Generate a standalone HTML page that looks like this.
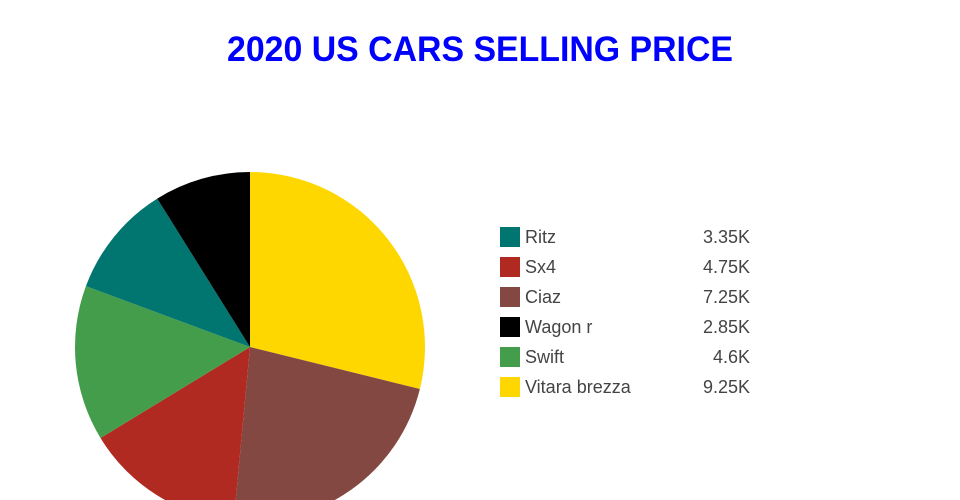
<!DOCTYPE html>
<html>
<head>
<meta charset="utf-8">
<style>
  html, body { margin: 0; padding: 0; background: #ffffff; }
  body { width: 960px; height: 500px; overflow: hidden; }
  svg { display: block; }
  text { font-family: "Liberation Sans", "DejaVu Sans", sans-serif; }
</style>
</head>
<body>
<svg width="960" height="500" viewBox="0 0 960 500" xmlns="http://www.w3.org/2000/svg">
  <rect x="0" y="0" width="960" height="500" fill="#ffffff"/>

  <!-- Title -->
  <text x="227" y="61" font-size="35" font-weight="bold" fill="#0000ff" textLength="506" lengthAdjust="spacingAndGlyphs">2020 US CARS SELLING PRICE</text>

  <!-- Pie -->
  <g>
    <!-- Vitara brezza -->
    <path d="M250,347 L250,172 A175,175 0 0 1 419.88,389.04 Z" fill="#ffd700"/>
    <!-- Ciaz -->
    <path d="M250,347 L419.88,389.04 A175,175 0 0 1 233.73,521.24 Z" fill="#834841"/>
    <!-- Sx4 -->
    <path d="M250,347 L233.73,521.24 A175,175 0 0 1 100.49,437.96 Z" fill="#b12a22"/>
    <!-- Swift -->
    <path d="M250,347 L100.49,437.96 A175,175 0 0 1 85.93,286.11 Z" fill="#439d4b"/>
    <!-- Ritz -->
    <path d="M250,347 L85.93,286.11 A175,175 0 0 1 157.23,198.61 Z" fill="#017670"/>
    <!-- Wagon r -->
    <path d="M250,347 L157.23,198.61 A175,175 0 0 1 250,172 Z" fill="#000000"/>
  </g>

  <!-- Legend -->
  <g font-size="18" fill="#444444">
    <rect x="500" y="227" width="20" height="20" fill="#017670"/>
    <text x="525" y="243">Ritz</text>
    <text x="750" y="243" text-anchor="end">3.35K</text>

    <rect x="500" y="257" width="20" height="20" fill="#b12a22"/>
    <text x="525" y="273">Sx4</text>
    <text x="750" y="273" text-anchor="end">4.75K</text>

    <rect x="500" y="287" width="20" height="20" fill="#834841"/>
    <text x="525" y="303">Ciaz</text>
    <text x="750" y="303" text-anchor="end">7.25K</text>

    <rect x="500" y="317" width="20" height="20" fill="#000000"/>
    <text x="525" y="333">Wagon r</text>
    <text x="750" y="333" text-anchor="end">2.85K</text>

    <rect x="500" y="347" width="20" height="20" fill="#439d4b"/>
    <text x="525" y="363">Swift</text>
    <text x="750" y="363" text-anchor="end">4.6K</text>

    <rect x="500" y="377" width="20" height="20" fill="#ffd700"/>
    <text x="525" y="393">Vitara brezza</text>
    <text x="750" y="393" text-anchor="end">9.25K</text>
  </g>
</svg>
</body>
</html>
